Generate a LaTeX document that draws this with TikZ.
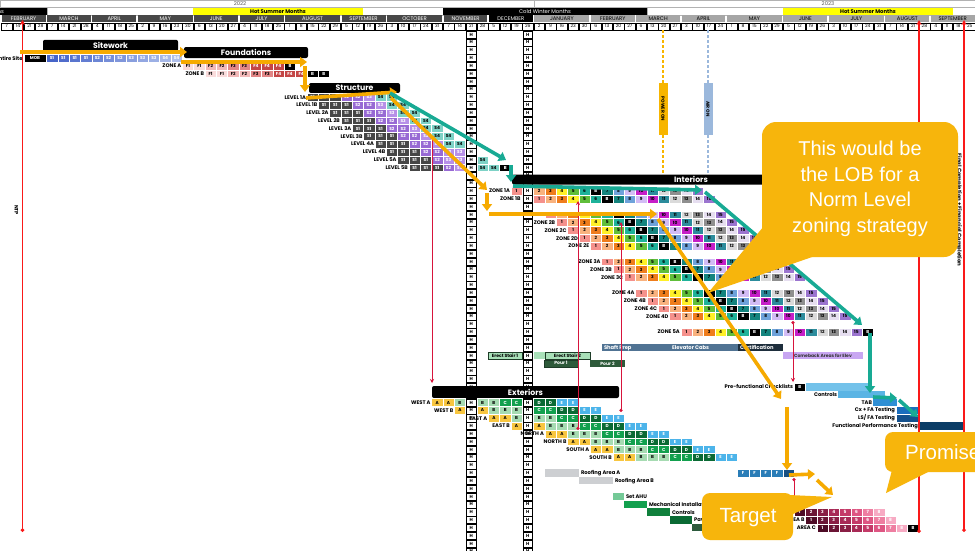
\documentclass[tikz,border=0pt]{standalone}
\usepackage{fontspec}
\setmainfont{Liberation Sans}
\newfontfamily\cf{Poppins}
\usetikzlibrary{arrows.meta}
\definecolor{amber}{RGB}{246,170,0}
\definecolor{callout}{RGB}{247,181,12}
\definecolor{tealA}{RGB}{24,170,148}
\definecolor{crim}{RGB}{215,20,60}
\definecolor{redL}{RGB}{250,25,25}
\definecolor{m22}{RGB}{72,72,72}
\definecolor{m23}{RGB}{166,166,166}
\definecolor{siteD}{RGB}{70,100,200}
\definecolor{siteL}{RGB}{190,205,240}
\definecolor{f1}{RGB}{250,220,220}
\definecolor{f2}{RGB}{242,184,184}
\definecolor{f3}{RGB}{226,134,134}
\definecolor{f4}{RGB}{196,70,70}
\definecolor{lS1}{RGB}{70,70,70}
\definecolor{lS2}{RGB}{152,106,212}
\definecolor{lS3}{RGB}{183,144,232}
\definecolor{lS4}{RGB}{126,210,198}
\definecolor{i1}{RGB}{245,145,140}
\definecolor{i2}{RGB}{249,178,126}
\definecolor{i3}{RGB}{239,125,28}
\definecolor{i4}{RGB}{255,240,40}
\definecolor{i5}{RGB}{96,190,58}
\definecolor{i6}{RGB}{30,178,154}
\definecolor{i7}{RGB}{20,132,126}
\definecolor{i8}{RGB}{110,162,218}
\definecolor{i9}{RGB}{210,188,245}
\definecolor{i10}{RGB}{198,30,200}
\definecolor{i11}{RGB}{44,140,156}
\definecolor{i12}{RGB}{218,218,218}
\definecolor{i13}{RGB}{143,143,143}
\definecolor{i14}{RGB}{230,222,240}
\definecolor{i15}{RGB}{155,116,207}
\definecolor{eA}{RGB}{248,198,64}
\definecolor{eB}{RGB}{166,219,178}
\definecolor{eC}{RGB}{18,160,78}
\definecolor{eD}{RGB}{10,106,52}
\definecolor{eE}{RGB}{76,180,234}
\definecolor{p1}{RGB}{77,11,37}
\definecolor{p2}{RGB}{107,21,53}
\definecolor{p3}{RGB}{138,31,69}
\definecolor{p4}{RGB}{168,42,86}
\definecolor{p5}{RGB}{196,58,104}
\definecolor{p6}{RGB}{222,86,131}
\definecolor{p7}{RGB}{238,126,161}
\definecolor{p8}{RGB}{247,170,195}
\definecolor{roofg}{RGB}{205,207,210}
\definecolor{ahu}{RGB}{116,201,151}
\definecolor{ctrlg}{RGB}{16,128,60}
\definecolor{darkg}{RGB}{44,90,60}
\definecolor{rf}{RGB}{42,125,183}
\definecolor{rfD}{RGB}{25,80,130}
\definecolor{shaft}{RGB}{80,115,147}
\definecolor{cert}{RGB}{30,46,60}
\definecolor{stair}{RGB}{168,224,184}
\definecolor{stairD}{RGB}{30,60,40}
\definecolor{pour}{RGB}{46,90,58}
\definecolor{comeb}{RGB}{200,166,242}
\definecolor{pfc}{RGB}{115,194,234}
\definecolor{ctl2}{RGB}{90,180,228}
\definecolor{tabc}{RGB}{47,143,213}
\definecolor{cxc}{RGB}{26,110,190}
\definecolor{lsc}{RGB}{20,80,140}
\definecolor{fptc}{RGB}{11,61,102}
\definecolor{pwr}{RGB}{247,181,0}
\definecolor{air}{RGB}{155,184,220}
\definecolor{hotY}{RGB}{255,255,0}
\newcount\cw
\newcommand\WX[1]{(1+11.33*(#1))}
\newcommand\RY[1]{(34.5+7.83*(#1))}
\newcommand\cellrow[3]{%
  \global\cw=#2\relax
  \edef\celllist{#3}%
  \foreach \fc/\tc/\lb in \celllist {%
    \ifnum\cw=41 \global\advance\cw by 1 \fi
    \ifnum\cw=46 \global\advance\cw by 1 \fi
    \node[cell,fill=\fc,text=\tc] (c-#1-\the\cw) at ({\WX{\the\cw+0.5}},{\RY{#1}}) {\lb};
    \global\advance\cw by 1\relax
  }}
\newcommand\xbar[6]{%
  \pgfmathsetmacro\bw{#4-#3}\pgfmathsetmacro\bc{(#3+#4)/2}%
  \node[pbar,#1,minimum width=\bw pt] (#2) at (\bc,{\RY{#5}}) {#6};}
\def\intseq{i1/black/1,i2/black/2,i3/black/3,i4/black/4,i5/black/5,i6/black/6,black/white/B,i7/black/7,i8/black/8,i9/black/9,i10/black/10,i11/black/11,i12/black/12,i13/black/13,i14/black/14,i15/black/15}
\def\lvseq{lS1/white/S1,lS1/white/S1,lS1/white/S1,lS2/white/S2,lS2/white/S2,lS3/white/S3,lS4/black/S4,lS4/black/S4}
\def\exseq{eA/black/A,eA/black/A,eB/black/B,eB/black/B,eB/black/B,eC/white/C,eC/white/C,eD/white/D,eD/white/D,eE/white/E,eE/white/E}
\def\pkseq{p1/white/1,p2/white/2,p3/white/3,p4/white/4,p5/white/5,p6/white/6,p7/white/7,p8/white/8}
\begin{document}
\begin{tikzpicture}[x=1pt,y=-1pt,
  cell/.style={draw=white, line width=0.25pt, minimum width=11.33pt, minimum height=7.83pt, inner sep=0pt, font=\cf\bfseries\fontsize{4.3}{4.5}\selectfont},
  hcell/.style={draw=black, fill=white, line width=0.35pt, minimum width=9.6pt, minimum height=7.2pt, inner sep=0pt, font=\cf\bfseries\fontsize{4.4}{4.5}\selectfont},
  rl/.style={anchor=east, inner sep=0.8pt, font=\cf\bfseries\fontsize{5.2}{5.5}\selectfont},
  rlw/.style={anchor=west, inner sep=0.8pt, font=\cf\bfseries\fontsize{5.2}{5.5}\selectfont},
  gbar/.style={fill=black, rounded corners=2pt, text=white, inner sep=0pt, font=\cf\bfseries\fontsize{7.8}{8}\selectfont},
  pbar/.style={inner sep=0pt, minimum height=7.3pt, font=\cf\bfseries\fontsize{4.5}{5}\selectfont},
  oarr/.style={draw=amber, line width=3.6pt, -{Triangle[length=7pt,width=10pt]}},
  tarr/.style={draw=tealA, line width=3.6pt, -{Triangle[length=7pt,width=10pt]}},
  dep/.style={draw=crim, line width=0.9pt, {Circle[length=3.2pt]}-{Stealth[length=4pt,width=4pt]}},
  bigl/.style={draw=redL, line width=1.1pt, {Circle[length=3.6pt]}-{Stealth[length=5pt,width=5pt]}},
  hdr/.style={font=\cf\fontsize{5.3}{5.5}\selectfont, inner sep=0pt}]
\useasboundingbox (0,0) rectangle (975,550);
\fill[white] (0,0) rectangle (975,550);
% ---------- header ----------
\draw[gray!60, line width=0.4pt] (0,0.3) rectangle (975,7.5);
\draw[gray!60, line width=0.4pt] (534,0) -- (534,7.5);
\node[hdr, text=gray!70!black] (y22) at (240,3.9) {2022};
\node[hdr, text=gray!70!black] (y23) at (828,3.9) {2023};
\fill[black] (0,7.5) rectangle (47,15);
\node[hdr, anchor=east, text=white] (cw0) at (4,11.3) {Cold Winter Months};
\draw[gray!60, line width=0.4pt] (47,7.5) rectangle (443,15);
\fill[hotY] (193,7.9) rectangle (363,14.6);
\node[hdr, font=\cf\bfseries\fontsize{5.3}{5.5}\selectfont] (hs1) at (278,11.3) {Hot Summer Months};
\fill[black] (443,7.5) rectangle (647,15);
\node[hdr, text=white] (cw1) at (545,11.3) {Cold Winter Months};
\draw[gray!60, line width=0.4pt] (647,7.5) rectangle (975,15);
\fill[hotY] (783,7.9) rectangle (953,14.6);
\node[hdr, font=\cf\bfseries\fontsize{5.3}{5.5}\selectfont] (hs2) at (868,11.3) {Hot Summer Months};
\foreach \m/\s/\n/\fc/\tc in {FEBRUARY/0/4/m22/white, MARCH/4/4/m22/white, APRIL/8/4/m22/white, MAY/12/5/m22/white, JUNE/17/4/m22/white, JULY/21/4/m22/white, AUGUST/25/5/m22/white, SEPTEMBER/30/4/m22/white, OCTOBER/34/5/m22/white, NOVEMBER/39/4/m22/white, DECEMBER/43/4/black/white, JANUARY/47/5/m23/black, FEBRUARY/52/4/m23/black, MARCH/56/4/m23/black, APRIL/60/4/m23/black, MAY/64/5/m23/black, JUNE/69/4/m23/black, JULY/73/5/m23/black, AUGUST/78/4/m23/black, SEPTEMBER/82/4/m23/black}
  {\node[hdr, fill=\fc, text=\tc, minimum height=6.6pt, minimum width={\n*11.33pt-1.4pt}] (mo\s) at ({\WX{\s+\n/2}},18.6) {\m};}
\foreach \d [count=\i from 0] in {7,14,21,28,7,14,21,28,4,11,18,25,2,9,16,23,30,6,13,20,27,4,11,18,25,1,8,15,22,29,5,12,19,26,3,10,17,24,31,7,14,21,28,5,12,19,26,2,9,16,23,30,6,13,20,27,6,13,20,27,3,10,17,24,1,8,15,22,29,5,12,19,26,3,10,17,24,31,7,14,21,28,4,11,18,25}
  {\node[draw=black, line width=0.3pt, fill=white, minimum width=10.6pt, minimum height=7pt, inner sep=0pt, font=\cf\fontsize{4.5}{4.5}\selectfont] (wk\i) at ({\WX{\i+0.5}},26.3) {\d};}
% ---------- holiday columns ----------
\foreach \k in {0,...,66} {
  \node[hcell] (ha\k) at ({\WX{41.5}},{\RY{\k}}) {H};
  \node[hcell] (hb\k) at ({\WX{46.5}},{\RY{\k}}) {H};
}
% ---------- sitework / foundations ----------
\node[gbar, minimum width=135pt, minimum height=11.5pt] (sitework) at (110.5,45.5) {Sitework};
\node[gbar, minimum width=124pt, minimum height=11pt] (found) at (246,52.5) {Foundations};
\node[cell, fill=black, text=white, minimum width=22.4pt] (mob) at ({\WX{3}},{\RY{3}}) {MOB};
\cellrow{3}{4}{siteD!100!siteL/white/S1,siteD!92!siteL/white/S1,siteD!84!siteL/white/S1,siteD!76!siteL/white/S1,siteD!68!siteL/white/S2,siteD!60!siteL/white/S2,siteD!52!siteL/white/S2,siteD!44!siteL/white/S3,siteD!36!siteL/white/S3,siteD!28!siteL/white/S3,siteD!20!siteL/white/S4,siteD!12!siteL/white/S4}
\node[rl] (lsite) at (23.5,{\RY{3}}) {Entire Site};
\cellrow{4}{16}{f1/black/F1,f1/black/F1,f2/black/F2,f2/black/F2,f3/black/F3,f3/black/F3,f4/white/F4,f4/white/F4,f4/white/F4,black/white/B}
\node[rl] (lza) at ({\WX{16}},{\RY{4}}) {ZONE A};
\cellrow{5}{18}{f1/black/F1,f1/black/F1,f2/black/F2,f2/black/F2,f3/black/F3,f3/black/F3,f4/white/F4,f4/white/F4,f4/white/F4,black/white/B,black/white/B}
\node[rl] (lzb) at ({\WX{18}},{\RY{5}}) {ZONE B};
% ---------- structure ----------
\node[gbar, minimum width=91pt, minimum height=10pt] (struct) at (354.5,88) {Structure};
\foreach \k/\s/\n in {8/27/1A,9/28/1B,10/29/2A,11/30/2B,12/31/3A,13/32/3B,14/33/4A} {
  \cellrow{\k}{\s}{\lvseq}
  \node[rl] (lv\n) at ({\WX{\s}},{\RY{\k}}) {LEVEL \n};
}
\cellrow{15}{34}{lS1/white/S1,lS1/white/S1,lS1/white/S1,lS2/white/S2,lS2/white/S2,lS3/white/S3,lS3/white/S3}
\node[rl] (lv4B) at ({\WX{34}},{\RY{15}}) {LEVEL 4B};
\cellrow{16}{35}{lS1/white/S1,lS1/white/S1,lS1/white/S1,lS2/white/S2,lS3/white/S3,lS3/white/S3,lS4/black/S4}
\node[rl] (lv5A) at ({\WX{35}},{\RY{16}}) {LEVEL 5A};
\cellrow{17}{36}{lS1/white/S1,lS1/white/S1,lS1/white/S1,lS2/white/S2,lS3/white/S3,lS4/black/S4,lS4/black/S4,black/white/B}
\node[rl] (lv5B) at ({\WX{36}},{\RY{17}}) {LEVEL 5B};
% ---------- interiors ----------
\node[gbar, minimum width=358pt, minimum height=10pt] (inter) at (691,179.5) {Interiors};
\foreach \k/\s/\n in {20/45/1A,23/48/2A,24/49/2B,25/50/2C,26/51/2D,27/52/2E,29/53/3A,30/54/3B,31/55/3C,33/56/4A,34/57/4B,35/58/4C,36/59/4D} {
  \cellrow{\k}{\s}{\intseq}
  \node[rl] (z\n) at ({\WX{\s}},{\RY{\k}}) {ZONE \n};
}
\cellrow{21}{47}{\intseq}
\node[rl] (z1B) at (521.5,{\RY{21}}) {ZONE 1B};
\cellrow{38}{60}{\intseq,black/white/B}
\node[rl] (z5A) at ({\WX{60}},{\RY{38}}) {ZONE 5A};
% elevators and stairs
\xbar{fill=shaft}{shp}{602}{670}{40}{}
\xbar{fill=shaft}{elc}{670}{738}{40}{}
\xbar{fill=cert}{cer}{738}{783}{40}{}
\node[rlw, text=white] (tshp) at (603,{\RY{40}}) {Shaft Prep};
\node[rlw, text=white] (telc) at (671,{\RY{40}}) {Elevator Cabs};
\node[rlw, text=white] (tcer) at (739,{\RY{40}}) {Certification};
\xbar{fill=stair,draw=stairD,line width=0.6pt}{es1}{488}{522}{41}{Erect Stair 1}
\xbar{fill=stair}{es1b}{534}{545}{41}{}
\xbar{fill=stair,draw=stairD,line width=0.6pt}{es2}{545}{590}{41}{Erect Stair 2}
\xbar{fill=pour,draw=stairD,text=white}{po1}{544}{578}{42}{Pour 1}
\xbar{fill=pour,text=white}{po2}{590}{625}{42}{Pour 2}
\xbar{fill=comeb,text=black!80}{cmb}{783}{863}{41}{Comeback Areas for Elev}
% commissioning
\node[rl] (lpf) at (794,{\RY{45}}) {Pre-functional Checklists};
\node[cell, fill=black, text=white] (pfb) at ({\WX{70.5}},{\RY{45}}) {B};
\xbar{fill=pfc}{pfbar}{806}{870}{45}{}
\node[rl] (lctl2) at (838,{\RY{46}}) {Controls};
\xbar{fill=ctl2}{ctl2b}{838}{885}{46}{}
\node[rl] (ltab) at (873,{\RY{47}}) {TAB};
\xbar{fill=tabc}{tabb}{873}{897}{47}{}
\node[rl] (lcx) at (896,{\RY{48}}) {Cx + FA Testing};
\xbar{fill=cxc}{cxb}{897}{919}{48}{}
\node[rl] (lls) at (896,{\RY{49}}) {LS/ FA Testing};
\xbar{fill=lsc}{lsb}{897}{919}{49}{}
\node[rl] (lfpt) at (919,{\RY{50}}) {Functional Performance Testing};
\xbar{fill=fptc}{fptb}{919}{964}{50}{}
% ---------- exteriors ----------
\node[gbar, minimum width=187pt, minimum height=12pt] (ext) at (525.5,392) {Exteriors};
\foreach \k/\s/\n in {47/38/WEST A,48/40/WEST B,49/43/EAST A,50/45/EAST B,51/48/NORTH A,52/50/NORTH B,53/52/SOUTH A,54/54/SOUTH B} {
  \cellrow{\k}{\s}{\exseq}
  \node[rl] (x\k) at ({\WX{\s}},{\RY{\k}}) {\n};
}
% roofing, MEP, finishes
\xbar{fill=roofg}{rfa}{545}{579}{56}{}
\node[rlw] (lrfa) at (580,{\RY{56}}) {Roofing Area A};
\xbar{fill=roofg}{rfb}{579}{613}{57}{}
\node[rlw] (lrfb) at (614,{\RY{57}}) {Roofing Area B};
\cellrow{56}{65}{rf/white/F,rf/white/F,rf/white/F,rf/white/F}
\node[cell, fill=rfD] (rf5) at ({\WX{69.5}},{\RY{56}}) {};
\xbar{fill=ahu}{ahub}{613}{624}{59}{}
\node[rlw] (lahu) at (625,{\RY{59}}) {Set AHU};
\xbar{fill=eC}{mech}{624}{647}{60}{}
\node[rlw] (lmech) at (648,{\RY{60}}) {Mechanical Installation};
\xbar{fill=ctrlg}{ctlg}{647}{670}{61}{}
\node[rlw] (lctlg) at (671,{\RY{61}}) {Controls};
\xbar{fill=eD}{pav}{670}{692}{62}{}
\node[rlw] (lpav) at (693,{\RY{62}}) {Paving};
\xbar{fill=darkg}{lst}{692}{715}{63}{}
\cellrow{61}{70}{\pkseq}
\node[rl] (lara) at ({\WX{70}},{\RY{61}}) {AREA A};
\cellrow{62}{71}{\pkseq}
\node[rl] (larb) at ({\WX{71}},{\RY{62}}) {AREA B};
\cellrow{63}{72}{\pkseq,black/white/B}
\node[rl] (larc) at ({\WX{72}},{\RY{63}}) {AREA C};
% ---------- milestones ----------
\coordinate (pwT) at (663,30); \coordinate (pwB) at (663,174);
\coordinate (arT) at (708,30); \coordinate (arB) at (708,174);
\draw[pwr, line width=1.3pt, dash pattern=on 3pt off 2pt] (pwT) -- (pwB);
\draw[air, line width=1.3pt, dash pattern=on 3pt off 2pt] (arT) -- (arB);
\node[fill=pwr, rotate=-90, minimum width=52pt, minimum height=9pt, inner sep=0pt, font=\cf\bfseries\fontsize{4.5}{5}\selectfont] (pwon) at (663,109) {POWER ON};
\node[fill=air, rotate=-90, minimum width=52pt, minimum height=9pt, inner sep=0pt, font=\cf\bfseries\fontsize{4.5}{5}\selectfont] (airon) at (708,109) {AIR ON};
\node[rotate=-90, inner sep=0pt, font=\cf\bfseries\fontsize{5}{5}\selectfont] (ntp) at (16.5,210) {NTP};
\node[rotate=-90, inner sep=0pt, font=\cf\bfseries\fontsize{5.4}{6}\selectfont] (fcmp) at (959,210) {Final Completion + Financial Completion};
\foreach \nm/\xa/\ya/\xb/\yb in {ntp/22.5/532/22.5/20, fca/919/533/919/20, fcb/964/532/964/20} {
  \coordinate (\nm a) at (\xa,\ya); \coordinate (\nm b) at (\xb,\yb);
  \draw[bigl] (\nm a) -- (\nm b);
}
\foreach \nm/\xa/\ya/\xb/\yb in {ra/432/136/432/383, rb/578/430/578/201, rc/621/412/621/222, rd/793/321/793/382, re/794/478/794/508} {
  \coordinate (\nm a) at (\xa,\ya); \coordinate (\nm b) at (\xb,\yb);
  \draw[dep] (\nm a) -- (\nm b);
}
% ---------- LOB arrows ----------
\foreach \nm/\xa/\ya/\xb/\yb in {oa/20/52/187/52, ob/181/62/307/62, oc/305/66/305/92, od/306/98/397/92, oe/391/98/487/190, of/487/193/487/211, og/489/214/657/214, oh/658/219/781/399, oi/787/407/787/470, oj/789/475/815/474, ok/817/480/833/495} {
  \coordinate (\nm a) at (\xa,\ya); \coordinate (\nm b) at (\xb,\yb);
  \draw[oarr] (\nm a) -- (\nm b);
}
\foreach \nm/\xa/\ya/\xb/\yb in {ta/390/93/506/160, tb/511/165/511/182, tc/513/186/702/190, td/705/192/862/325, te/870/333/870/393, tf/873/397/897/398, tg/899/400/918/417} {
  \coordinate (\nm a) at (\xa,\ya); \coordinate (\nm b) at (\xb,\yb);
  \draw[tarr] (\nm a) -- (\nm b);
}
% ---------- callouts ----------
\fill[callout, rounded corners=14pt] (762,122) rectangle (958,257);
\fill[callout] (764,226) -- (708,293) -- (815,256) -- cycle;
\node[text=white, align=center, inner sep=0pt, font=\fontsize{20}{25.5}\selectfont] (cnote) at (860,189) {This would be\\the LOB for a\\Norm Level\\zoning strategy};
\fill[callout, rounded corners=8pt] (702,493) rectangle (793,540);
\fill[callout] (768,494) -- (832,497) -- (793,514) -- cycle;
\node[text=white, inner sep=0pt, font=\fontsize{20.5}{22}\selectfont] (tgt) at (748,518) {Target};
\fill[callout, rounded corners=8pt] (885,432) rectangle (995,472);
\fill[callout] (892,470) -- (886,493) -- (930,471) -- cycle;
\node[anchor=west, text=white, inner sep=0pt, font=\fontsize{20.5}{22}\selectfont] (prm) at (905,452) {Promise};
\end{tikzpicture}
\end{document}
